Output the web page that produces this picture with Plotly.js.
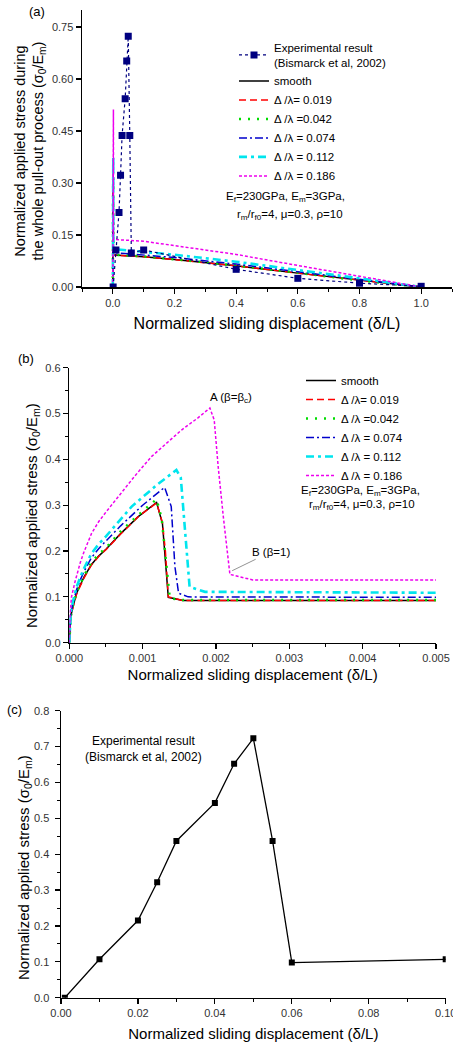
<!DOCTYPE html>
<html><head><meta charset="utf-8">
<script src="https://cdn.plot.ly/plotly-3.0.1.min.js"></script>
<style>html,body{margin:0;padding:0;background:#fff}</style>
</head><body>
<div id="chart" style="width:453px;height:1042px"></div>
<script>
// ---------- data ----------
// Experimental result (Bismarck et al, 2002)
const expX = [0.001, 0.01, 0.02, 0.025, 0.03, 0.04, 0.045, 0.05, 0.055, 0.06, 0.1, 0.4, 0.6, 0.8, 1.0];
const expY = [0.0, 0.107, 0.215, 0.322, 0.437, 0.543, 0.652, 0.723, 0.437, 0.098, 0.107, 0.051, 0.025, 0.011, 0.002];

// smooth
const smoothX = [0, 0.00002, 0.00005, 0.0001, 0.00015, 0.0002, 0.0003, 0.0004, 0.0005, 0.0007, 0.00094, 0.00119, 0.00127, 0.0013, 0.00135, 0.00155, 0.005, 0.1, 0.2, 0.4, 0.6, 0.8, 1.0];
const smoothY = [0, 0.057, 0.079, 0.108, 0.126, 0.143, 0.17, 0.189, 0.204, 0.238, 0.275, 0.306, 0.26, 0.2, 0.099, 0.092, 0.092, 0.087, 0.079, 0.061, 0.040, 0.019, 0];
// Δ/λ = 0.019
const d019X = [0, 0.00002, 0.00005, 0.0001, 0.00015, 0.0002, 0.0003, 0.0004, 0.0005, 0.0007, 0.00094, 0.00119, 0.00127, 0.00131, 0.00135, 0.00155, 0.005, 0.1, 0.2, 0.4, 0.6, 0.8, 1.0];
const d019Y = [0, 0.055, 0.077, 0.106, 0.124, 0.141, 0.169, 0.188, 0.203, 0.237, 0.275, 0.305, 0.262, 0.2, 0.1, 0.092, 0.092, 0.087, 0.079, 0.061, 0.040, 0.019, 0];
// Δ/λ = 0.042
const d042X = [0, 0.00002, 0.00005, 0.0001, 0.00015, 0.0002, 0.0003, 0.0004, 0.0005, 0.0007, 0.00095, 0.00119, 0.00126, 0.00132, 0.00137, 0.00155, 0.005, 0.1, 0.2, 0.4, 0.6, 0.8, 1.0];
const d042Y = [0, 0.058, 0.081, 0.11, 0.128, 0.146, 0.175, 0.193, 0.207, 0.243, 0.28, 0.313, 0.27, 0.17, 0.097, 0.093, 0.093, 0.088, 0.080, 0.062, 0.041, 0.019, 0];
// Δ/λ = 0.074
const d074X = [0, 0.00002, 0.00005, 0.0001, 0.00015, 0.0002, 0.0003, 0.0004, 0.0005, 0.0007, 0.001, 0.0013, 0.00139, 0.00144, 0.00149, 0.00162, 0.005, 0.1, 0.2, 0.4, 0.6, 0.8, 1.0];
const d074Y = [0, 0.062, 0.086, 0.116, 0.137, 0.155, 0.185, 0.205, 0.222, 0.255, 0.3, 0.339, 0.297, 0.166, 0.108, 0.1, 0.099, 0.093, 0.085, 0.066, 0.044, 0.021, 0];
// Δ/λ = 0.112
const d112X = [0, 0.00002, 0.00005, 0.0001, 0.00015, 0.0002, 0.0003, 0.0004, 0.0005, 0.00085, 0.0012, 0.00146, 0.00152, 0.00158, 0.00164, 0.00185, 0.005, 0.1, 0.2, 0.4, 0.6, 0.8, 1.0];
const d112Y = [0, 0.066, 0.09, 0.122, 0.143, 0.162, 0.194, 0.215, 0.232, 0.297, 0.345, 0.377, 0.36, 0.239, 0.122, 0.111, 0.109, 0.102, 0.093, 0.073, 0.050, 0.025, 0];
// Δ/λ = 0.186
const d186X = [0, 0.00001, 0.00003, 0.000078, 0.00015, 0.0002, 0.000305, 0.0004, 0.0005, 0.000668, 0.0009, 0.00112, 0.00153, 0.00175, 0.001917, 0.001976, 0.00203, 0.0021, 0.00219, 0.0025, 0.005, 0.1, 0.2, 0.4, 0.6, 0.8, 1.0];
const d186Y = [0, 0.06, 0.1, 0.133, 0.175, 0.198, 0.239, 0.264, 0.285, 0.319, 0.365, 0.406, 0.464, 0.49, 0.512, 0.486, 0.384, 0.275, 0.149, 0.137, 0.137, 0.132, 0.12, 0.094, 0.062, 0.030, 0];

const seriesNames = ['smooth', 'Δ /λ= 0.019', 'Δ /λ =0.042', 'Δ /λ = 0.074', 'Δ /λ = 0.112', 'Δ /λ = 0.186'];
const expName = 'Experimental result<br>(Bismarck et al, 2002)';
const paramLine1 = 'E<sub>f</sub>=230GPa, E<sub>m</sub>=3GPa,';
const paramLine2 = 'r<sub>m</sub>/r<sub>f0</sub>=4, μ=0.3, ρ=10';
const xTitle = 'Normalized sliding displacement (δ/L)';
const yTitleA = 'Normalized applied stress during<br>the whole pull-out process (σ<sub>0</sub>/E<sub>m</sub>)';
const yTitleBC = 'Normalized applied stress (σ<sub>0</sub>/E<sub>m</sub>)';

// ---------- styles ----------
const F = 'Liberation Sans, Arial, Helvetica, sans-serif';
const styles = [
  {color: '#000000', width: 1.5, dash: 'solid'},
  {color: '#ff0000', width: 1.5, dash: '7px,4px'},
  {color: '#00dd00', width: 2.5, dash: '2px,7px'},
  {color: '#0000cc', width: 1.5, dash: '8px,3px,2px,3px'},
  {color: '#00e5ee', width: 2.6, dash: '8px,4px,3px,4px'},
  {color: '#ee00ee', width: 1.5, dash: '3px,2px'}
];
const curves = [[smoothX, smoothY], [d019X, d019Y], [d042X, d042Y], [d074X, d074Y], [d112X, d112Y], [d186X, d186Y]];

const traces = [];
curves.forEach((c, i) => {
  traces.push({x: c[0], y: c[1], type: 'scatter', mode: 'lines', name: seriesNames[i],
    xaxis: 'x', yaxis: 'y', legend: 'legend', legendrank: i + 2, line: styles[i]});
});
traces.push({x: expX, y: expY, type: 'scatter', mode: 'lines+markers', name: expName,
  xaxis: 'x', yaxis: 'y', legend: 'legend', legendrank: 1,
  line: {color: '#000080', width: 1.2, dash: 'dot'},
  marker: {symbol: 'square', size: 7, color: '#000080'}});
curves.forEach((c, i) => {
  traces.push({x: c[0], y: c[1], type: 'scatter', mode: 'lines', name: seriesNames[i],
    xaxis: 'x2', yaxis: 'y2', legend: 'legend2', legendrank: i + 2, line: styles[i]});
});
const cX = expX.filter(v => v <= 0.1);
const cY = expY.slice(0, cX.length);
traces.push({x: cX, y: cY, type: 'scatter', mode: 'lines+markers', showlegend: false,
  xaxis: 'x3', yaxis: 'y3', line: {color: '#000', width: 1.3},
  marker: {symbol: 'square', size: 6, color: '#000'}});

function ax(o) {
  return Object.assign({
    showline: true, linecolor: '#000', linewidth: 1.5, mirror: false, automargin: false,
    ticks: 'outside', ticklen: 5, tickwidth: 1.2, tickcolor: '#000',
    showgrid: false, zeroline: false,
    tickfont: {family: F, size: 11, color: '#333'}
  }, o);
}
function ttl(text, size, standoff) {
  return {text: text, font: {family: F, size: size, color: '#000'}, standoff: standoff};
}
const H = 1042, W = 453;
const py = p => 1 - p / H, px = p => p / W;
function note(text, x, y, size, angle) {
  return {text: text, xref: 'paper', yref: 'paper', x: px(x), y: py(y), xanchor: 'center', yanchor: 'middle',
    textangle: angle || 0, showarrow: false, font: {family: F, size: size, color: '#000'}};
}
const minor = d => ({ticks: 'outside', ticklen: 3, tickwidth: 1, tickcolor: '#000', dtick: d});

const layout = {
  width: W, height: H, margin: {l: 0, r: 0, t: 0, b: 0},
  paper_bgcolor: '#fff', plot_bgcolor: '#fff',
  font: {family: F, color: '#000'},
  xaxis: ax({domain: [px(82), px(452)], anchor: 'y', range: [-0.1, 1.1], dtick: 0.2, tick0: 0, tickformat: '.1f',
    minor: minor(0.1), title: ttl(xTitle, 16, 10)}),
  yaxis: ax({domain: [py(287), py(9.6)], anchor: 'x', range: [0, 0.8], dtick: 0.15, tick0: 0, tickformat: '.2f'}),
  xaxis2: ax({domain: [px(69.3), px(436)], anchor: 'y2', range: [0, 0.005], dtick: 0.001, tickformat: '.3f',
    minor: minor(0.0005), title: ttl(xTitle, 15, 6)}),
  yaxis2: ax({domain: [py(642.7), py(367.7)], anchor: 'x2', range: [0, 0.6], dtick: 0.1, tickformat: '.1f',
    minor: minor(0.05)}),
  xaxis3: ax({domain: [px(61), px(445.7)], anchor: 'y3', range: [0, 0.1000001], dtick: 0.02, tickformat: '.2f',
    ticklabeloverflow: 'allow', minor: minor(0.01), title: ttl(xTitle, 15, 13)}),
  yaxis3: ax({domain: [py(997.7), py(710.7)], anchor: 'x3', range: [0, 0.8], dtick: 0.1, tickformat: '.1f',
    ticklabelstandoff: 3, minor: minor(0.05)}),
  legend: {x: px(234), y: py(33.5), xanchor: 'left', yanchor: 'top', bgcolor: 'rgba(0,0,0,0)',
    font: {family: F, size: 11.5, color: '#000'}, itemwidth: 30, traceorder: 'normal'},
  legend2: {x: px(301), y: py(366), xanchor: 'left', yanchor: 'top', bgcolor: 'rgba(0,0,0,0)',
    font: {family: F, size: 11.5, color: '#000'}, itemwidth: 30, traceorder: 'normal'},
  annotations: [
    note(yTitleA, 29.5, 151, 14.5, -90),
    note(yTitleBC, 32, 516, 15, -90),
    note(yTitleBC, 24, 868, 15, -90),
    note('(a)', 37, 12, 13),
    note('(b)', 25.5, 358, 13),
    note('(c)', 14.5, 709, 13),
    note(paramLine1, 285, 197, 11.5),
    note(paramLine2, 290, 215, 11.5),
    note(paramLine1, 360, 491, 11.5),
    note(paramLine2, 362, 505, 11.5),
    note('Experimental result<br>(Bismarck et al, 2002)', 143.5, 748.7, 12),
    {text: 'A (β=β<sub>c</sub>)', xref: 'x2', yref: 'y2', x: 0.00189, y: 0.534, xanchor: 'left', yanchor: 'middle', showarrow: false, font: {family: F, size: 11.5, color: '#000'}},
    {text: 'B (β=1)', xref: 'x2', yref: 'y2', x: 0.00222, y: 0.157, ax: 39, ay: -19, showarrow: true, arrowhead: 0, arrowwidth: 0.8, arrowcolor: '#777', font: {family: F, size: 11.5, color: '#000'}}
  ]
};

Plotly.newPlot('chart', traces, layout, {staticPlot: true, displayModeBar: false});
</script>
</body></html>
